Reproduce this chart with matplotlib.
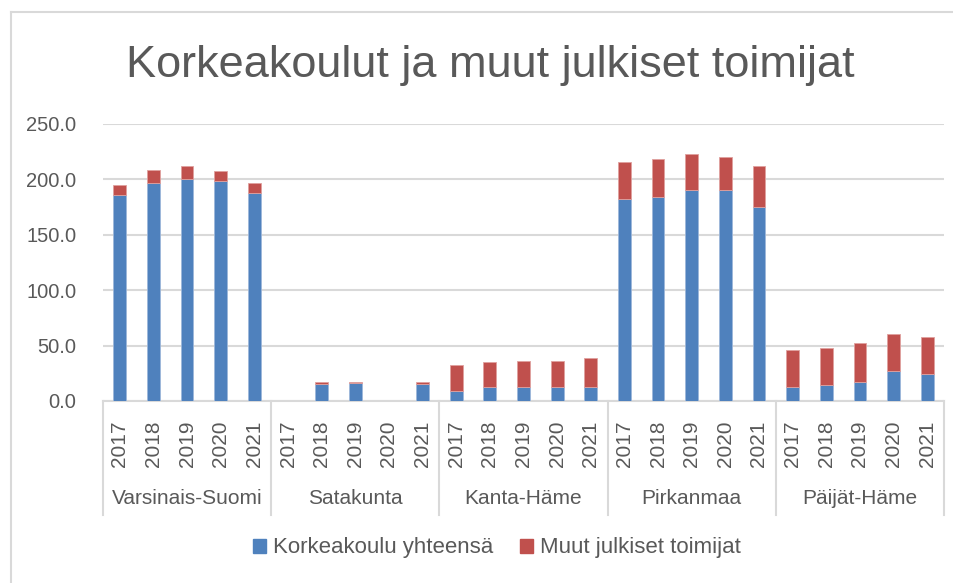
import matplotlib
matplotlib.use("Agg")
import matplotlib.pyplot as plt
from matplotlib.patches import Patch
from matplotlib.lines import Line2D
import matplotlib.transforms as mtransforms

regions = ["Varsinais-Suomi", "Satakunta", "Kanta-Häme", "Pirkanmaa", "Päijät-Häme"]
years = ["2017", "2018", "2019", "2020", "2021"]
korkeakoulu = [
    [185.6, 197.1, 200.4, 198.3, 187.8],
    [0.0, 15.1, 16.6, 0.0, 15.1],
    [9.3, 12.7, 12.7, 12.7, 12.7],
    [182.4, 184.4, 190.5, 190.5, 175.1],
    [12.7, 14.2, 17.5, 26.8, 24.4],
]
muut = [
    [9.1, 11.5, 11.8, 9.0, 9.3],
    [0.0, 2.4, 0.9, 0.0, 2.4],
    [23.2, 22.3, 23.5, 23.5, 25.9],
    [33.4, 33.8, 32.5, 30.1, 37.4],
    [33.7, 33.4, 34.7, 33.5, 33.7],
]
yticks = [0, 50, 100, 150, 200, 250]

blue = "#4F81BD"
red = "#C0504D"
grid = "#D9D9D9"
txt = "#595959"
fam = ["Liberation Sans", "DejaVu Sans"]
plt.rcParams["font.family"] = fam

W, H = 954, 583
fig = plt.figure(figsize=(W / 100, H / 100), dpi=100)
ax = fig.add_axes([103 / W, 1 - 401 / H, (944 - 103) / W, (401 - 124) / H])

blue_vals = [v for grp in korkeakoulu for v in grp]
red_vals = [v for grp in muut for v in grp]
x = list(range(len(blue_vals)))
ax.bar(x, blue_vals, width=0.38, color=blue, edgecolor="#9DB7DA", linewidth=0.6, zorder=3)
ax.bar(x, red_vals, bottom=blue_vals, width=0.38, color=red, edgecolor="#E0A09E", linewidth=0.6, zorder=3)

ax.set_xlim(-0.5, len(x) - 0.5)
ax.set_ylim(0, 250)
ax.set_yticks(yticks)
ax.set_yticklabels([f"{v:.1f}" for v in yticks], fontsize=14.5, color=txt)
ax.tick_params(axis="y", length=0, pad=19)
ax.yaxis.grid(True, color=grid, linewidth=1.5, zorder=0)
ax.set_axisbelow(True)
for s in ["top", "right", "left"]:
    ax.spines[s].set_visible(False)
ax.spines["bottom"].set_color(grid)
ax.spines["bottom"].set_linewidth(1.5)

ax.set_xticks(x)
ax.set_xticklabels(years * len(regions), rotation=90, fontsize=15, color=txt)
ax.tick_params(axis="x", length=0, pad=14)

trans = mtransforms.blended_transform_factory(ax.transData, fig.transFigure)
for i in range(len(regions) + 1):
    xd = i * 5 - 0.5
    fig.add_artist(Line2D([xd, xd], [1 - 401 / H, 1 - 515 / H], transform=trans,
                          color=grid, linewidth=1.5))
for i, r in enumerate(regions):
    fig.text(i * 5 + 2, 1 - 498 / H, r, transform=trans, ha="center", va="center",
             fontsize=15, color=txt)

fig.text(490 / W, 1 - 66 / H, "Korkeakoulut ja muut julkiset toimijat", ha="center",
         va="center", fontsize=32.5, color=txt)

handles = [Patch(facecolor=blue, edgecolor=blue), Patch(facecolor=red, edgecolor=red)]
fig.legend(handles, ["Korkeakoulu yhteensä", "Muut julkiset toimijat"], loc="center",
           bbox_to_anchor=(497 / W, 1 - 548 / H), ncol=2, frameon=False, fontsize=16,
           handlelength=0.6, handleheight=0.6, handletextpad=0.3, columnspacing=1.2,
           labelcolor=txt)

fig.add_artist(Line2D([11 / W, 11 / W], [0, 1 - 12 / H], transform=fig.transFigure,
                      color=grid, linewidth=1.5))
fig.add_artist(Line2D([11 / W, 1], [1 - 12 / H, 1 - 12 / H], transform=fig.transFigure,
                      color=grid, linewidth=1.5))

fig.savefig("out.png", dpi=100, facecolor="white")
